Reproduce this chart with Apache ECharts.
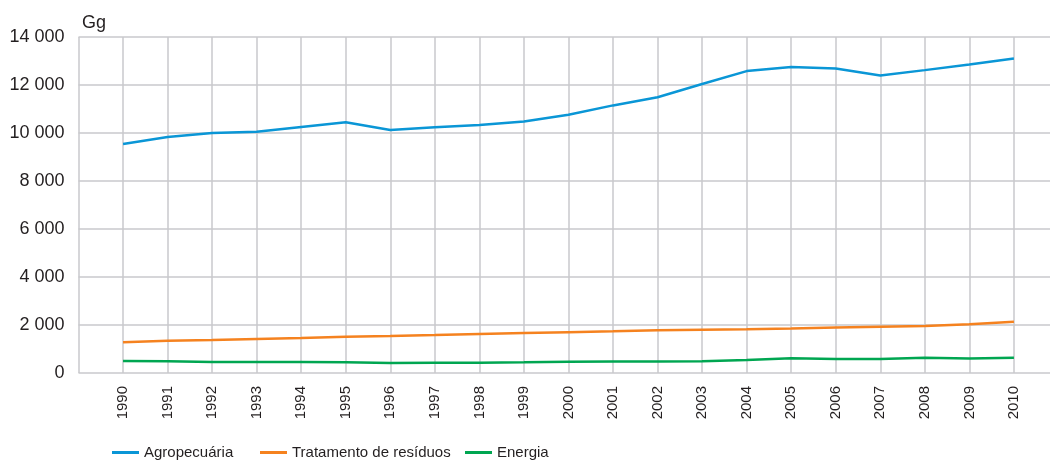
<!DOCTYPE html>
<html>
<head>
<meta charset="utf-8">
<script src="https://cdn.jsdelivr.net/npm/echarts@6/dist/echarts.min.js"></script>
<style>
  html, body { margin: 0; padding: 0; background: #fff; }
  #chart { width: 1050px; height: 461px; }
</style>
</head>
<body>
<div id="chart"></div>
<script>
// data (Gg)
var years = [1990, 1991, 1992, 1993, 1994, 1995, 1996, 1997, 1998, 1999, 2000,
             2001, 2002, 2003, 2004, 2005, 2006, 2007, 2008, 2009, 2010];
var agropecuaria = [9540, 9830, 10000, 10050, 10250, 10450, 10125, 10240, 10330, 10480, 10760,
                    11150, 11490, 12040, 12580, 12750, 12690, 12400, 12620, 12850, 13100];
var residuos = [1280, 1340, 1375, 1420, 1460, 1510, 1540, 1580, 1625, 1665, 1700,
                1735, 1780, 1805, 1820, 1850, 1900, 1930, 1960, 2030, 2140];
var energia = [500, 485, 460, 460, 460, 445, 415, 430, 430, 445, 465,
               475, 475, 485, 540, 610, 585, 585, 640, 600, 640];
var seriesNames = ['Agropecuária', 'Tratamento de resíduos', 'Energia'];
var colors = ['#0a96d6', '#f5821f', '#00a651'];

function pairs(vals) {
  return years.map(function (y, i) { return [y, vals[i]]; });
}

var txt = '#231f20';
var gridColor = '#c9c9cc';

var myChart = echarts.init(document.getElementById('chart'));

function legendAt(name, left) {
  return {
    data: [name],
    left: left,
    top: 440,
    icon: 'rect',
    itemWidth: 27,
    itemHeight: 3,
    itemGap: 6,
    selectedMode: false,
    textStyle: {
      color: txt,
      fontSize: 15,
      fontFamily: 'Liberation Sans, Arial, sans-serif'
    }
  };
}

var option = {
  animation: false,
  color: colors,
  title: {
    text: 'Gg',
    left: 77,
    top: 9,
    textStyle: { color: txt, fontSize: 18, fontWeight: 'normal', fontFamily: 'Liberation Sans, Arial, sans-serif' }
  },
  legend: [
    legendAt(seriesNames[0], 107),
    legendAt(seriesNames[1], 255),
    legendAt(seriesNames[2], 460)
  ],
  // one year step is ~44.55px; the last column runs past the right edge
  grid: { left: 78.5, top: 37, right: 0, height: 336 },
  xAxis: {
    type: 'value',
    min: 1989,
    max: 2010.81,
    interval: 1,
    axisLine: { show: false },
    axisTick: { show: false },
    splitLine: { show: true, showMaxLine: false, lineStyle: { color: gridColor, width: 1.5 } },
    axisLabel: {
      rotate: 90,
      margin: 13,
      color: txt,
      fontSize: 15,
      fontFamily: 'Liberation Sans, Arial, sans-serif',
      formatter: function (v) {
        return (v < years[0] || v > years[years.length - 1] || v % 1 !== 0) ? '' : String(v);
      }
    }
  },
  yAxis: {
    type: 'value',
    min: 0,
    max: 14000,
    interval: 2000,
    axisLine: { show: false },
    axisTick: { show: false },
    splitLine: { show: true, lineStyle: { color: gridColor, width: 1.5 } },
    axisLabel: {
      margin: 14,
      color: txt,
      fontSize: 18,
      fontFamily: 'Liberation Sans, Arial, sans-serif',
      formatter: function (v) {
        return String(v).replace(/\B(?=(\d{3})+(?!\d))/g, ' ');
      }
    }
  },
  series: [
    { name: seriesNames[0], type: 'line', data: pairs(agropecuaria), symbol: 'none', lineStyle: { width: 2.5 } },
    { name: seriesNames[1], type: 'line', data: pairs(residuos), symbol: 'none', lineStyle: { width: 2.5 } },
    { name: seriesNames[2], type: 'line', data: pairs(energia), symbol: 'none', lineStyle: { width: 2.5 } }
  ]
};

myChart.setOption(option);
</script>
</body>
</html>
